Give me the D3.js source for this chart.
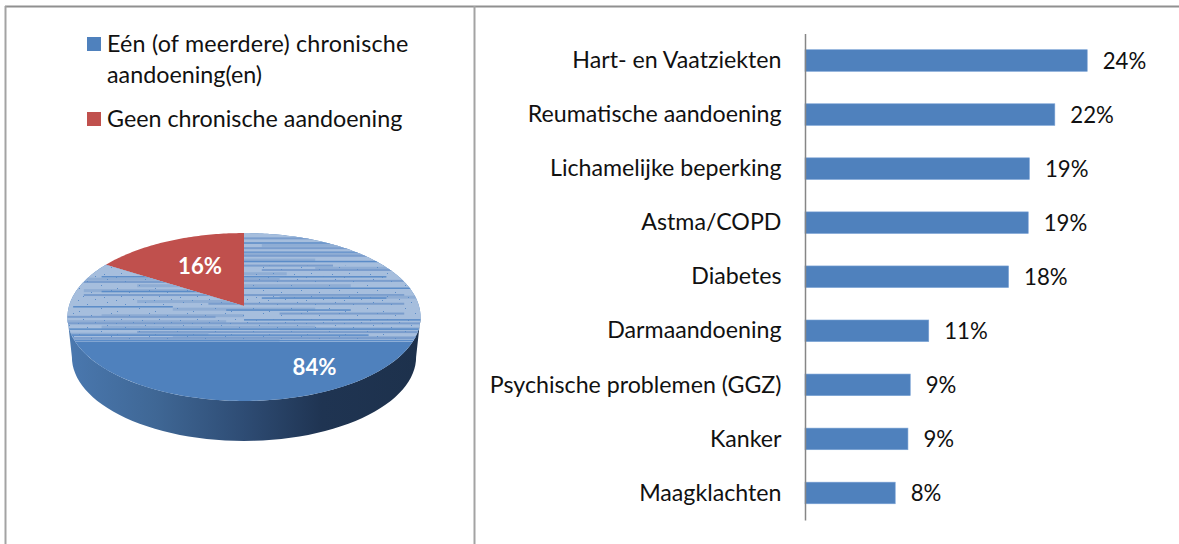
<!DOCTYPE html>
<html>
<head>
<meta charset="utf-8">
<script src="https://cdn.jsdelivr.net/npm/d3@7"></script>
<style>
  html, body { margin: 0; padding: 0; background: #fff; }
  text { font-family: Lato, "Open Sans", sans-serif; fill: #111; }
</style>
</head>
<body>
<div id="chart"></div>
<script>
// pie data
const pieLabels = ["Eén (of meerdere) chronische aandoening(en)", "Geen chronische aandoening"];
const pieValues = [84, 16];
const pieColors = ["#4f81bd", "#c0504d"];

// bar data
const barLabels = ["Hart- en Vaatziekten", "Reumatische aandoening", "Lichamelijke beperking", "Astma/COPD",
  "Diabetes", "Darmaandoening", "Psychische problemen (GGZ)", "Kanker", "Maagklachten"];
const barValues = [24.4, 21.6, 19.4, 19.3, 17.6, 10.7, 9.1, 8.9, 7.8];
const barText = ["24%", "22%", "19%", "19%", "18%", "11%", "9%", "9%", "8%"];

// the banded look of the big slice's top face: [row, from, to, kind], row and from/to as share of the face
const bands = [
  [.04,.3,.8,1],[.085,.5,1,2],[.1,.55,.85,0],[.13,.35,.9,1],[.17,.05,.95,2],[.18,.5,.9,0],[.2,.45,.85,1],
  [.235,.3,.7,0],[.255,.5,1,2],[.27,.1,.4,0],[.29,.2,.75,1],[.31,.7,1,0],[.33,.55,.95,1],[.36,.3,.62,0],
  [.395,.1,.9,2],[.41,.05,.6,0],[.43,.5,.95,1],[.44,.05,.35,1],[.47,.2,.8,0],[.5,.4,1,2],[.515,.05,.35,0],
  [.53,.1,.5,2],[.56,.05,.95,1],[.575,.6,1,0],[.59,.55,.9,2],[.615,.2,.5,0],[.64,.4,.95,1],[.67,.02,.3,2],
  [.685,.3,.7,0],[.7,.45,.8,2],[.73,.6,.95,1],[.745,.1,.5,0],[.76,0,.42,1],[.79,.5,1,2],[.8,0,.45,0],
  [.82,0,1,1],[.85,.1,.7,0],[.865,.6,1,0],[.875,0,1,2],[.9,.2,1,1],[.915,0,.4,0],[.93,0,.85,2],
  [.945,.3,1,0],[.955,0,1,1],[.97,0,.6,0],[.98,0,1,2]
];
const bandColors = ["#8fadd4", "#7a9dcd", "#5b8cc8"];
// speckle tile, one repeat of the grain in the face
const speckle = [[2,1],[19,0],[31,3],[11,5],[25,9],[3,12],[35,14],[15,16],[7,20],[28,21]];

const width = 1179, height = 544;
const svg = d3.select("#chart").append("svg")
  .attr("width", width).attr("height", height)
  .style("display", "block");

const defs = svg.append("defs");

// frame
const frame = svg.append("g").attr("stroke", "#a3a3a3").attr("stroke-width", 2);
frame.append("line").attr("x1", 5).attr("x2", width).attr("y1", 6.5).attr("y2", 6.5).attr("stroke", "#909090");
frame.append("line").attr("x1", 5.5).attr("x2", 5.5).attr("y1", 6).attr("y2", height);
frame.append("line").attr("x1", 474.5).attr("x2", 474.5).attr("y1", 6).attr("y2", height);

// legend
const legend = svg.append("g").style("font-size", "23.3px");
legend.selectAll("rect").data(pieColors).enter().append("rect")
  .attr("x", 87).attr("y", (d, i) => i ? 112 : 37)
  .attr("width", 14).attr("height", 14).attr("fill", d => d);
legend.append("text").attr("x", 107).attr("y", 52).style("letter-spacing", "0.2px").text("Eén (of meerdere) chronische");
legend.append("text").attr("x", 107).attr("y", 83).text("aandoening(en)");
legend.append("text").attr("x", 107).attr("y", 127).text(pieLabels[1]);

// pie, tilted with a small perspective so the centre sits above the middle of the ellipse
const cx = 244, cy = 306, rx = 175, ry = 82.5, persp = 0.131, depth = 40;
const project = a => {
  const u = Math.sin(a), v = -Math.cos(a), s = 1 - persp * v;
  return [cx + rx * u / s, cy + ry * v / s];
};
const line = d3.line();
const sliceOutline = d => {
  const n = Math.max(8, Math.ceil((d.endAngle - d.startAngle) * 60));
  const pts = d3.range(n + 1).map(i => project(d.startAngle + (d.endAngle - d.startAngle) * i / n));
  return line([[cx, cy], ...pts]) + "Z";
};
const slices = d3.pie().sort(null)(pieValues);

const grad = defs.append("linearGradient").attr("id", "side");
[[0, "#4a78af"], [.25, "#3f6795"], [.5, "#2e4c74"], [.72, "#1f3452"], [1, "#1d314c"]].forEach(s =>
  grad.append("stop").attr("offset", s[0]).attr("stop-color", s[1]));

const pieG = svg.append("g");
// widest points of the tilted rim are at sin = persp, just in front of the sides
const rimStart = Math.PI / 2 + Math.asin(persp);
const rim = d3.range(0, 61).map(i => project(rimStart + (2 * Math.PI - 2 * rimStart) * i / 60));
// the lower rim is further from the eye, so a little narrower
const lowerRim = rim.slice().reverse().map(p => [cx + (p[0] - cx) * 0.975, p[1] + depth]);
pieG.append("path")
  .attr("d", line([...rim, ...lowerRim]) + "Z")
  .attr("fill", "url(#side)");

pieG.selectAll("path.slice").data(slices).enter().append("path")
  .attr("class", "slice")
  .attr("d", sliceOutline)
  .attr("fill", (d, i) => pieColors[i]);

// washed out upper part of the blue slice
defs.append("clipPath").attr("id", "blueClip").append("path").attr("d", sliceOutline(slices[0]));
const tile = defs.append("pattern").attr("id", "grain")
  .attr("width", 38).attr("height", 23).attr("patternUnits", "userSpaceOnUse");
tile.selectAll("rect").data(speckle).enter().append("rect")
  .attr("x", d => d[0]).attr("y", d => d[1])
  .attr("width", 1).attr("height", 1).attr("fill", "#5b8cc8");

const face = pieG.append("g").attr("clip-path", "url(#blueClip)");
const faceTop = 233, faceBottom = 342, faceLeft = 66, faceRight = 422;
const rowY = d3.scaleLinear().domain([0, 1]).range([faceTop, faceBottom]);
const rowX = d3.scaleLinear().domain([0, 1]).range([faceLeft, faceRight]);
face.append("rect")
  .attr("x", faceLeft).attr("y", faceTop)
  .attr("width", faceRight - faceLeft).attr("height", faceBottom - faceTop)
  .attr("fill", "#a6bedd");
face.selectAll("rect.band").data(bands).enter().append("rect")
  .attr("class", "band")
  .attr("x", d => rowX(d[1]))
  .attr("y", d => rowY(d[0]))
  .attr("width", d => rowX(d[2]) - rowX(d[1]))
  .attr("height", d => d[3] === 0 ? 3 : d[3] === 1 ? 2 : 1.5)
  .attr("fill", d => bandColors[d[3]]);
face.append("rect")
  .attr("x", faceLeft).attr("y", rowY(.3))
  .attr("width", faceRight - faceLeft).attr("height", rowY(1) - rowY(.3))
  .attr("fill", "url(#grain)");

pieG.selectAll("text").data(slices).enter().append("text")
  .attr("x", (d, i) => i ? 200 : 314.5)
  .attr("y", (d, i) => i ? 273.5 : 374.5)
  .attr("text-anchor", "middle")
  .style("fill", "#fff")
  .style("font-weight", 700)
  .style("font-size", "22.2px")
  .text(d => d.value + "%");

// bars
const x = d3.scaleLinear().domain([0, 30]).range([805, 1152]);
const y = d3.scaleBand().domain(barLabels).range([33.5, 520]).paddingInner(0.6).paddingOuter(0.3);

const barsG = svg.append("g");
barsG.selectAll("rect").data(barValues).enter().append("rect")
  .attr("x", x(0))
  .attr("y", (d, i) => y(barLabels[i]))
  .attr("width", d => x(d) - x(0))
  .attr("height", y.bandwidth())
  .attr("fill", "#4f81bd")
  .attr("stroke", "#7ba3d6")
  .attr("stroke-width", 0.6);

barsG.selectAll("text").data(barValues).enter().append("text")
  .attr("x", d => x(d) + 15.5)
  .attr("y", (d, i) => y(barLabels[i]) + y.bandwidth() / 2 + 8.5)
  .style("font-size", "22.2px")
  .text((d, i) => barText[i]);

const axis = svg.append("g")
  .attr("transform", "translate(" + x(0) + ",0)")
  .call(d3.axisLeft(y).tickSize(0).tickPadding(23.5));
axis.select(".domain").attr("stroke", "#868686").attr("stroke-width", 1.5);
axis.selectAll("text").style("font-size", "23.2px").attr("dy", "0.33em");
</script>
</body>
</html>
